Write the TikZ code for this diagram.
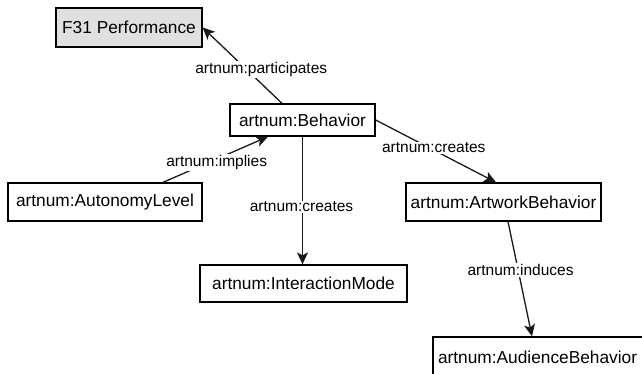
\documentclass[tikz,border=0pt]{standalone}
\usepackage{fontspec}
\setmainfont{Liberation Sans}
\usetikzlibrary{arrows.meta}
\definecolor{boxgray}{HTML}{E0E0E0}
\begin{document}
\begin{tikzpicture}[x=1pt,y=-1pt,
  cls/.style={draw=black, line width=1.3pt, fill=white, inner sep=0pt, anchor=center,
    font=\fontsize{17.3}{20}\selectfont},
  rel/.style={draw=black!90, line width=1.3pt, -{Stealth[length=12pt,width=11pt,inset=3pt]}},
  lbl/.style={fill=white, inner sep=1pt, font=\fontsize{15.5}{18}\selectfont}]
\useasboundingbox (0,0) rectangle (642,374);
\clip (0,0) rectangle (642,374);
\node[cls, fill=boxgray, minimum width=146pt, minimum height=39pt] (f31) at (129,27.5) {F31 Performance};
\node[cls, minimum width=145pt, minimum height=32pt] (beh) at (302.5,120) {artnum:Behavior};
\node[cls, minimum width=194pt, minimum height=38pt] (auto) at (105,202) {artnum:AutonomyLevel};
\node[cls, minimum width=195pt, minimum height=38pt] (art) at (503.5,202) {artnum:ArtworkBehavior};
\node[cls, minimum width=207pt, minimum height=37pt] (inter) at (303.5,283.5) {artnum:InteractionMode};
\node[cls, minimum width=212pt, minimum height=40pt, text width=212pt, align=left] (aud) at (539,357)
  {\hspace*{5pt}artnum:AudienceBehavior};
\draw[rel] ([xshift=-20.5pt]beh.north) -- (f31.east)
  node[lbl, pos=0.444, xshift=14.5pt] {artnum:participates};
\draw[rel] ([xshift=58pt]auto.north) -- ([xshift=-34.5pt]beh.south)
  node[lbl, pos=0.435, xshift=8pt] {artnum:implies};
\draw[rel] (beh.south) -- (beh.south |- inter.north)
  node[lbl, pos=0.55, xshift=-1pt] {artnum:creates};
\draw[rel] (beh.east) -- ([xshift=-7.5pt]art.north)
  node[lbl, pos=0.45, xshift=4pt] {artnum:creates};
\draw[rel] ([xshift=4.5pt]art.south) -- ([xshift=-7pt]aud.north)
  node[lbl, pos=0.42, xshift=2.5pt] {artnum:induces};
\end{tikzpicture}
\end{document}
